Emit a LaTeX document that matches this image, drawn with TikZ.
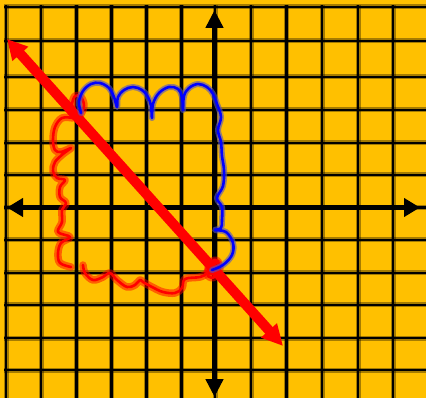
\documentclass[tikz,border=0pt]{standalone}
\usetikzlibrary{arrows.meta}
\definecolor{bg}{RGB}{255,192,0}
\definecolor{bluehalo}{RGB}{80,80,200}
\begin{document}
\begin{tikzpicture}[x=1pt,y=-1pt,
  gridhalo/.style={line width=5pt, black, opacity=0.35},
  gridcore/.style={line width=2.6pt, black},
  axisline/.style={line width=4.5pt, black},
  redarrow/.style={line width=10pt, red},
  redscrib/.style={line width=2.6pt, red, line cap=round, line join=round,
     preaction={draw, red, opacity=0.5, line width=7.5pt, line cap=round, line join=round}},
  bluescrib/.style={line width=2.6pt, blue, line cap=round, line join=round,
     preaction={draw, bluehalo, opacity=0.6, line width=6pt, line cap=round, line join=round}}]
\useasboundingbox (0,0) rectangle (426,398);
\fill[bg] (0,0) rectangle (426,398);
% grid
\foreach \x in {6,41,76.5,111.5,146.5,181.5,215,251,286.5,322,358,393}
  \draw[gridhalo] (\x,5) -- (\x,398);
\foreach \y in {7,41,77,110,143,175,207.5,240,273,305,338,370}
  \draw[gridhalo] (4,\y) -- (426,\y);
\foreach \x in {6,41,76.5,111.5,146.5,181.5,215,251,286.5,322,358,393}
  \draw[gridcore] (\x,5) -- (\x,398);
\foreach \y in {7,41,77,110,143,175,207.5,240,273,305,338,370}
  \draw[gridcore] (4,\y) -- (426,\y);
% axes
\coordinate (ytop) at (214.5,10);
\coordinate (ybot) at (214.5,397);
\coordinate (xleft) at (7,207.5);
\coordinate (xright) at (420,207.5);
\draw[axisline,{Triangle[length=18pt,width=17pt]}-{Triangle[length=18pt,width=17pt]}] (ytop) -- (ybot);
\draw[axisline,{Triangle[length=16pt,width=18pt]}-{Triangle[length=16pt,width=18pt]}] (xleft) -- (xright);
% red line
\coordinate (rA) at (7,39);
\coordinate (rB) at (283,346);
\draw[redarrow,{Triangle[length=20pt,width=20pt]}-{Triangle[length=21pt,width=20pt]}] (rA) -- (rB);
% red scribbles
\draw[redscrib] plot[smooth,tension=0.6] coordinates {(80,116) (84,106) (81,97) (75,96) (72,105) (74,116)};
\draw[redscrib] plot[smooth,tension=0.6] coordinates {(73,118) (62,118) (55,127) (53,140) (55,150) (61,152) (71,148) (63,154) (55,162) (53,171) (57,178) (65,180) (60,187) (60,197) (66,203) (62,210) (62,222) (58,232) (70,237) (61,243) (58,253) (60,263) (71,267)};
\draw[redscrib] plot[smooth,tension=0.6] coordinates {(83,265) (85,273) (93,280) (103,277) (110,273) (117,280) (127,287) (135,285) (140,280) (143,282) (152,287) (163,292) (175,293) (182,288) (185,279) (200,277) (207,273) (210,266)};
\draw[redscrib] (214,268) circle (6);
\draw[redscrib] (212,273) circle (5);
\draw[redscrib] (215,264) circle (4);
% blue scribble
\draw[bluescrib] plot[smooth,tension=0.6] coordinates {(81,113) (79,102) (83,91) (91,84) (100,83) (109,88) (114,97) (117,107) (118,97) (124,90) (133,87) (142,90) (148,97) (151,106) (152,118) (153,104) (159,93) (169,87) (178,89) (182,97) (183,110) (184,96) (189,88) (198,84) (207,87) (213,94) (217,104) (221,117) (218,130) (221,142) (222,156) (224,170) (223,186) (217,198) (222,207) (222,220) (221,228) (215,230) (226,232) (233,243) (232,255) (223,265) (212,270)};
\end{tikzpicture}
\end{document}
